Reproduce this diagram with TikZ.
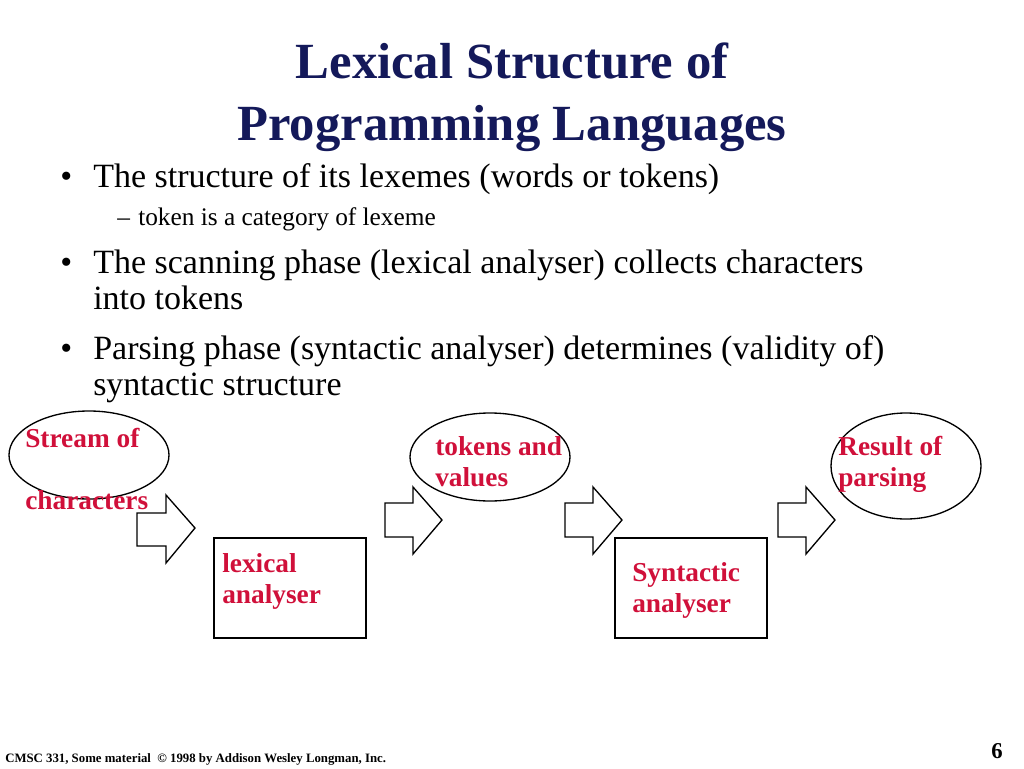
\documentclass[tikz,border=0pt]{standalone}
\usepackage{fontspec}
\setmainfont{Liberation Serif}
\begin{document}
\begin{tikzpicture}[x=0.75pt,y=-0.75pt,
  ttl/.style={font=\fontsize{38}{40}\selectfont\bfseries,text=navy,anchor=base},
  txt/.style={font=\fontsize{25.5}{28}\selectfont,anchor=base west,inner sep=0},
  sub/.style={font=\fontsize{19}{22}\selectfont,anchor=base west,inner sep=0},
  red/.style={font=\fontsize{20.5}{24}\selectfont\bfseries,text=myred,anchor=base west,inner sep=0},
  shp/.style={draw=black,line width=1pt},
  blk/.style={draw=black,line width=1pt,fill=white}]
\definecolor{navy}{HTML}{14195A}
\definecolor{myred}{HTML}{D0103A}
\useasboundingbox (0,0) rectangle (1024,768);
\node[ttl] (t1) at (512,78) {Lexical Structure of};
\node[ttl] (t2) at (512,140) {Programming Languages};
\node[txt] (b1d) at (60,187) {•};
\node[txt] (b1) at (93,187) {The structure of its lexemes (words or tokens)};
\node[sub] (s1d) at (117,225) {–};
\node[sub] (s1) at (138,225) {token is a category of lexeme};
\node[txt] (b2d) at (60,273) {•};
\node[txt] (b2) at (93,273) {The scanning phase (lexical analyser) collects characters};
\node[txt] (b2b) at (93,309) {into tokens};
\node[txt] (b3d) at (60,359) {•};
\node[txt] (b3) at (93,359) {Parsing phase (syntactic analyser) determines (validity of)};
\node[txt] (b3b) at (93,395) {syntactic structure};
% shapes
\draw[shp] (89,455) ellipse[x radius=80,y radius=44];
\draw[shp] (490,457) ellipse[x radius=80,y radius=44];
\draw[shp] (906,466) ellipse[x radius=75,y radius=53];
\draw[shp] (214,538) rectangle (366,638);
\draw[shp] (615,538) rectangle (767,638);
\draw[blk] (137,513) -- (166,513) -- (166,495) -- (195,528) -- (166,563) -- (166,546) -- (137,546) -- cycle;
\draw[blk] (385,503) -- (413,503) -- (413,487) -- (442,520) -- (413,554) -- (413,537) -- (385,537) -- cycle;
\draw[blk] (565,503) -- (593,503) -- (593,487) -- (622,520) -- (593,554) -- (593,537) -- (565,537) -- cycle;
\draw[blk] (778,503) -- (806,503) -- (806,487) -- (835,520) -- (806,554) -- (806,537) -- (778,537) -- cycle;
% labels
\node[red] (l1) at (25,447) {Stream of};
\node[red] (l2) at (25,509) {characters};
\node[red] (l3) at (435,455) {tokens and};
\node[red] (l4) at (435,486) {values};
\node[red] (l5) at (222,572) {lexical};
\node[red] (l6) at (222,603) {analyser};
\node[red] (l7) at (632,581) {Syntactic};
\node[red] (l8) at (632,612) {analyser};
\node[red] (l9) at (838,455) {Result of};
\node[red] (l10) at (838,486) {parsing};
\node[anchor=base west,inner sep=0,font=\fontsize{9.6}{11}\selectfont\bfseries] (f) at (5,762) {CMSC 331, Some material \ © 1998 by Addison Wesley Longman, Inc.};
\node[anchor=base east,inner sep=0,font=\fontsize{17}{20}\selectfont\bfseries] (pg) at (1003,758) {6};
\end{tikzpicture}
\end{document}
